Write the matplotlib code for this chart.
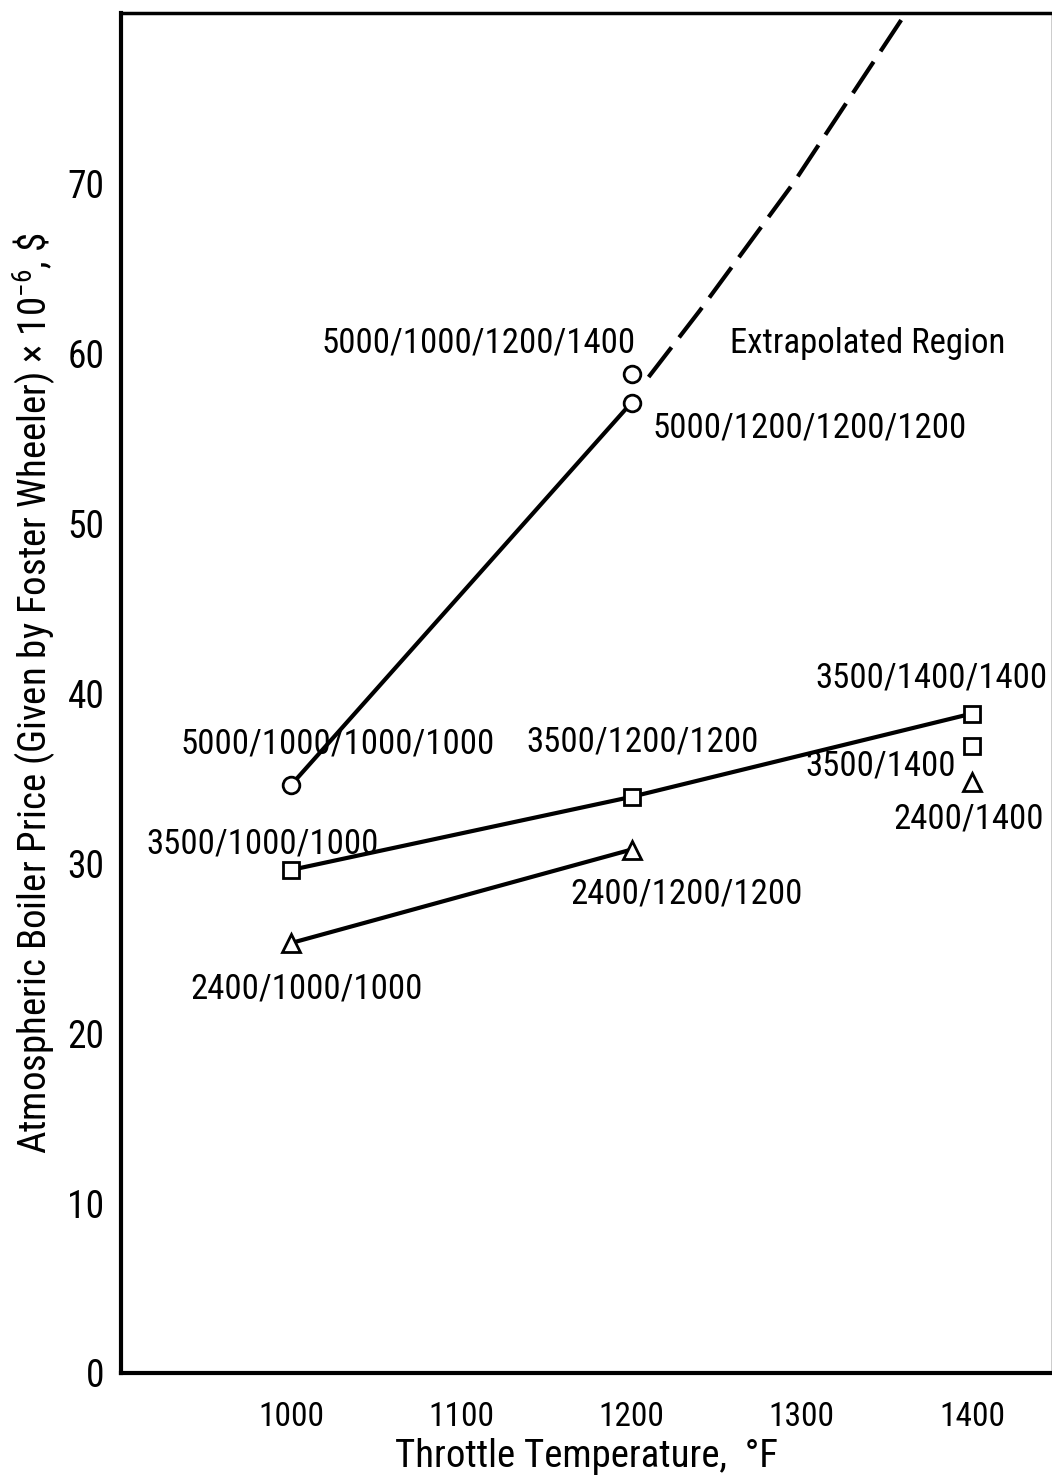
import matplotlib
matplotlib.use("Agg")
import matplotlib.pyplot as plt
from matplotlib import font_manager

# pick a narrow face for the labels, fall back to DejaVu Sans at a smaller size
names = {f.name for f in font_manager.fontManager.ttflist}
narrow = ["Roboto Condensed", "Liberation Sans Narrow", "PT Sans Narrow", "Archivo Narrow", "Open Sans Condensed"]
face = next((n for n in narrow if n in names), None)
if face is None:
    face, fs, xt_fs, yt_fs, lab_fs = "DejaVu Sans", 19, 18, 20, 20
else:
    fs, xt_fs, yt_fs, lab_fs = 25, 24, 27, 28
plt.rcParams["font.family"] = [face, "DejaVu Sans"]
plt.rcParams["mathtext.default"] = "regular"

# boiler price, millions of dollars, vs throttle temperature (F)
temps = [1000, 1200, 1400]
p5000 = [34.6, 57.1]          # 5000 psi, circles
p5000_extra = 58.8            # 5000/1000/1200/1400
p3500 = [29.6, 33.9, 38.8]    # 3500 psi, squares
p3500_single = 36.9           # 3500/1400
p2400 = [25.3, 30.8]          # 2400 psi, triangles
p2400_single = 34.8           # 2400/1400

# extrapolated 5000 psi curve
ext_t = [1210, 1240, 1295, 1361, 1380]
ext_p = [58.6, 62.5, 70.0, 80.0, 83.2]

fig = plt.figure(figsize=(10.52, 14.80), dpi=100)
ax = fig.add_axes([0.115, 0.0723, 0.885, 0.9187])

edge = dict(markerfacecolor="white", markeredgecolor="black", markeredgewidth=2.0, color="black")

ax.plot(ext_t, ext_p, color="black", lw=3, ls=(0, (9, 3)))
ax.plot(temps[:2], p5000, marker="o", markersize=12, lw=3, **edge)
ax.plot(temps[1], p5000_extra, marker="o", markersize=12, ls="none", **edge)
ax.plot(temps, p3500, marker="s", markersize=12, lw=3, **edge)
ax.plot(temps[2], p3500_single, marker="s", markersize=11, ls="none", **edge)
ax.plot(temps[:2], p2400, marker="^", markersize=13, lw=3, **edge)
ax.plot(temps[2], p2400_single, marker="^", markersize=13, ls="none", **edge)

ax.text(1018, 60.6, "5000/1000/1200/1400", fontsize=fs, va="center")
ax.text(1212, 55.6, "5000/1200/1200/1200", fontsize=fs, va="center")
ax.text(1258, 60.6, "Extrapolated Region", fontsize=fs, va="center")
ax.text(935, 37.0, "5000/1000/1000/1000", fontsize=fs, va="center")
ax.text(1138, 37.1, "3500/1200/1200", fontsize=fs, va="center")
ax.text(1308, 40.9, "3500/1400/1400", fontsize=fs, va="center")
ax.text(1302, 35.7, "3500/1400", fontsize=fs, va="center")
ax.text(1354, 32.6, "2400/1400", fontsize=fs, va="center")
ax.text(915, 31.1, "3500/1000/1000", fontsize=fs, va="center")
ax.text(1164, 28.2, "2400/1200/1200", fontsize=fs, va="center")
ax.text(941, 22.6, "2400/1000/1000", fontsize=fs, va="center")

ax.set_xlim(900, 1447)
ax.set_ylim(0, 80)
ax.set_xticks([1000, 1100, 1200, 1300, 1400])
ax.set_yticks(range(0, 80, 10))
ax.tick_params(length=0)
ax.tick_params(axis="x", labelsize=xt_fs, pad=20)
ax.tick_params(axis="y", labelsize=yt_fs, pad=12)

ax.set_xlabel("Throttle Temperature,  °F", fontsize=lab_fs, labelpad=4)
ax.set_ylabel("Atmospheric Boiler Price (Given by Foster Wheeler) × 10$^{-6}$, \\$", fontsize=lab_fs, labelpad=6)

for side in ["left", "bottom"]:
    ax.spines[side].set_linewidth(3)
ax.spines["top"].set_linewidth(2.5)
ax.spines["right"].set_linewidth(1)

fig.savefig("out.png", dpi=100)
